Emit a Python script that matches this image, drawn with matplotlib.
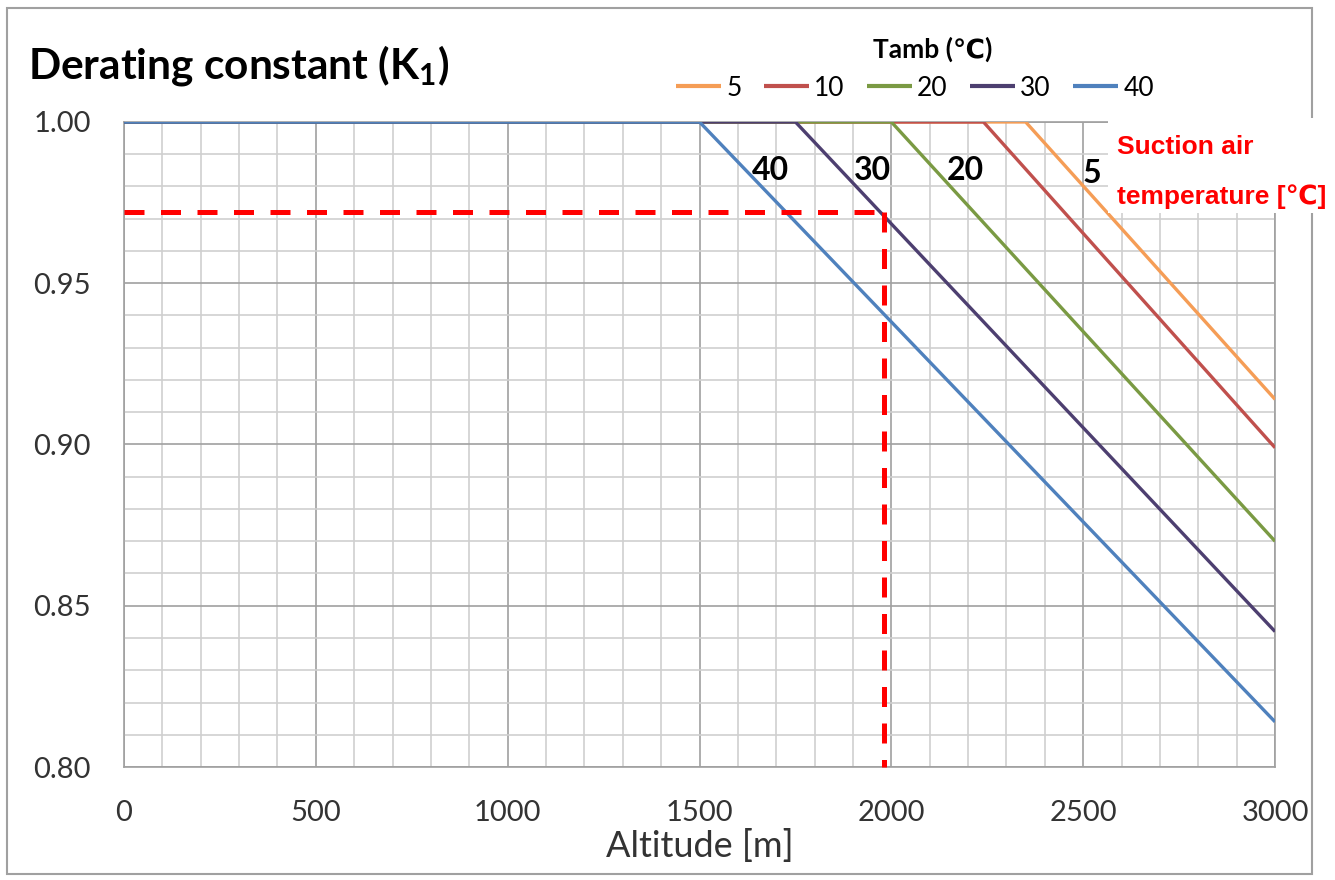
import matplotlib
matplotlib.use("Agg")
import matplotlib.pyplot as plt
from matplotlib.patches import Rectangle
from matplotlib.ticker import MultipleLocator, FormatStrFormatter

plt.rcParams['font.family'] = ['Lato', 'DejaVu Sans']
plt.rcParams['mathtext.fontset'] = 'custom'
plt.rcParams['mathtext.rm'] = 'Lato:bold'

# Derating curves: flat at 1.00 up to the break altitude, then linear down to 3000 m
temps = ['5', '10', '20', '30', '40']
break_alt = [2350, 2240, 2000, 1750, 1500]
k1_at_3000 = [0.914, 0.899, 0.870, 0.842, 0.814]
colors = ['#F59D56', '#C0504D', '#7A9A43', '#4D3F70', '#4F81BD']

# Reading example: 30 degC suction air at ~2000 m
read_alt = 1980
read_k1 = 0.972

# Curve labels placed next to each line
label_text = ['40', '30', '20', '5']
label_x = [1684, 1952, 2192, 2523]
label_y = [0.985, 0.985, 0.985, 0.984]

fig = plt.figure(figsize=(13.35, 8.8), dpi=100)
ax = fig.add_axes([0.0929, 0.1284, 0.8622, 0.7330])

for t, b, k, c in zip(temps, break_alt, k1_at_3000, colors):
    ax.plot([0, b, 3000], [1.0, 1.0, k], color=c, lw=2.4, label=t,
            solid_capstyle='butt', zorder=3)

ax.plot([0, read_alt], [read_k1, read_k1], color='#FF0000', lw=3.6,
        dashes=(4, 3.3), zorder=4, clip_on=False)
ax.plot([read_alt, read_alt], [read_k1, 0.80], color='#FF0000', lw=3.6,
        dashes=(4, 3.3), zorder=4, clip_on=False)

for s, x, y in zip(label_text, label_x, label_y):
    ax.text(x, y, s, fontsize=23, fontweight='bold', color='black',
            ha='center', va='center', zorder=5)

ax.set_xlim(0, 3000)
ax.set_ylim(0.80, 1.00)
ax.xaxis.set_major_locator(MultipleLocator(500))
ax.xaxis.set_minor_locator(MultipleLocator(100))
ax.yaxis.set_major_locator(MultipleLocator(0.05))
ax.yaxis.set_minor_locator(MultipleLocator(0.01))
ax.yaxis.set_major_formatter(FormatStrFormatter('%.2f'))
ax.grid(which='major', color='#A0A0A0', lw=1.2)
ax.grid(which='minor', color='#CFCFCF', lw=1.2)
ax.set_axisbelow(True)
ax.tick_params(which='both', length=0)
ax.tick_params(axis='x', pad=24, labelsize=21, labelcolor='#333333')
ax.tick_params(axis='y', pad=24, labelsize=21, labelcolor='#333333')
for sp in ax.spines.values():
    sp.set_color('#A0A0A0')
    sp.set_linewidth(1.2)

ax.set_xlabel('Altitude [m]', fontsize=26, color='#333333', labelpad=2)

fig.text(0.021, 0.926, r'Derating constant (K$_{\mathrm{1}}$)', fontsize=30.5,
         fontweight='bold', ha='left', va='center')

# White panel behind the red note in the top-right corner
fig.add_artist(Rectangle((1108 / 1335, 1 - 213 / 880), 215 / 1335, 95 / 880,
                         transform=fig.transFigure, facecolor='white',
                         edgecolor='none', zorder=3))
note_font = ['Liberation Sans', 'DejaVu Sans']
fig.text(1117 / 1335, 1 - 147 / 880, 'Suction air', fontsize=19,
         fontweight='bold', color='#FF0000', ha='left', va='center',
         family=note_font, zorder=4)
fig.text(1117 / 1335, 1 - 197 / 880, 'temperature [℃]', fontsize=19,
         fontweight='bold', color='#FF0000', ha='left', va='center',
         family=note_font, zorder=4)

leg = ax.legend(ncol=5, frameon=False, fontsize=19,
                handlelength=1.7, handletextpad=0.2, columnspacing=0.85,
                loc='center', bbox_to_anchor=(915 / 1335, 1 - 88 / 880),
                bbox_transform=fig.transFigure)
for h in leg.get_lines():
    h.set_linewidth(3)
fig.text(933 / 1335, 1 - 49 / 880, 'Tamb (℃)', fontsize=19, fontweight='bold',
         ha='center', va='center')

# Thin frame around the whole figure
fig.add_artist(Rectangle((0.005, 0.007), 0.978, 0.984, transform=fig.transFigure,
                         facecolor='none', edgecolor='#A0A0A0', lw=1.5))

fig.savefig('out.png', dpi=100, facecolor='white')
